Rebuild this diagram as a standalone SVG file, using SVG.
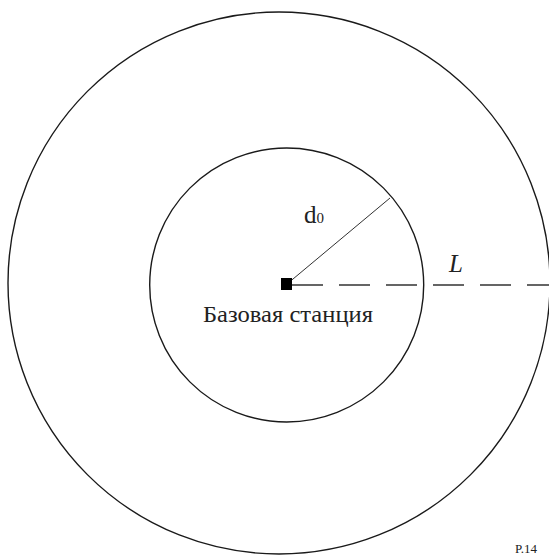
<svg xmlns="http://www.w3.org/2000/svg" width="549" height="555" viewBox="0 0 549 555">
<style>
.ring{fill:none;stroke:#1a1a1a;stroke-width:1.4}
.lbl{font-family:"Liberation Serif","Times New Roman",serif;fill:#222}
</style>
<rect width="549" height="555" fill="#fff"/>
<g id="outer-zone"><circle class="ring" cx="279" cy="283" r="271"/></g>
<g id="inner-zone"><circle class="ring" cx="286.7" cy="285" r="137"/></g>
<g id="connectors">
<line x1="287" y1="284" x2="390" y2="198" stroke="#1a1a1a" stroke-width="0.9"/>
<line x1="292" y1="285" x2="549" y2="285" stroke="#333" stroke-width="1.6" stroke-dasharray="31 16"/>
</g>
<g id="base-station">
<rect x="281" y="278" width="11" height="12" fill="#000"/>
<text class="lbl" x="203" y="322" font-size="23" textLength="170" lengthAdjust="spacingAndGlyphs">Базовая станция</text>
</g>
<g id="label-d0"><text class="lbl" x="304" y="223" font-size="25">d<tspan font-size="15">0</tspan></text></g>
<g id="label-L"><text class="lbl" x="449" y="271.5" font-size="25" font-style="italic">L</text></g>
<g id="ref"><text class="lbl" x="515" y="553" font-size="13">P.14</text></g>
</svg>
